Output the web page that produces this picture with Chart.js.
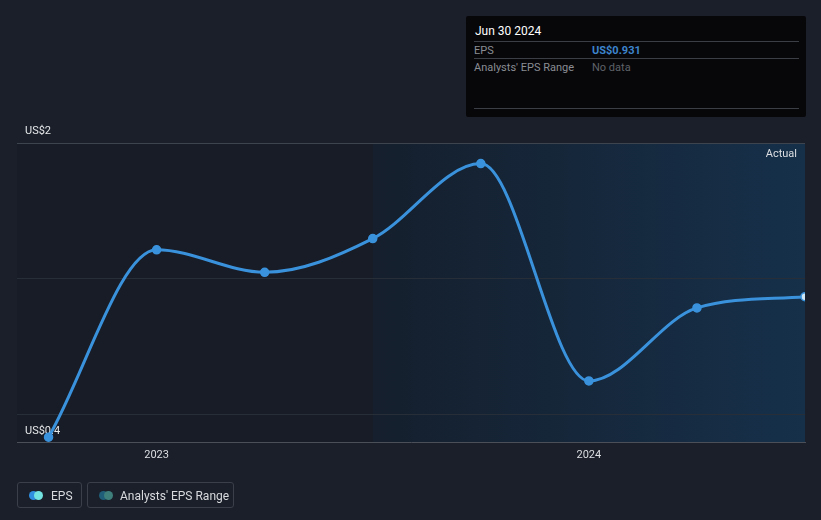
<!DOCTYPE html>
<html>
<head>
<meta charset="utf-8">
<script src="https://cdn.jsdelivr.net/npm/chart.js@4.4.1/dist/chart.umd.min.js"></script>
<style>
  body { margin: 0; background: #1a1f29; font-family: Roboto, sans-serif; }
  #wrap { position: relative; width: 821px; height: 520px; }
  #tip { position: absolute; left: 466px; top: 16px; width: 340px; height: 101px; background: #07070a; border-radius: 2px; font-size: 11px; }
  #tip .ttl { position: absolute; left: 9px; top: 8px; color: #fff; font-size: 12px; }
  #tip .row { position: absolute; left: 8px; width: 325px; height: 17px; border-top: 1px solid #3b3e45; color: #8a8d93; line-height: 17px; }
  #tip .row span.v { position: absolute; left: 118px; }
  .legend { position: absolute; top: 482px; height: 26px; border: 1px solid #3a3f4a; border-radius: 3px; color: #d8dade; font-size: 12px; line-height: 26px; box-sizing: border-box; }
  .dots { position: absolute; left: 11px; top: 8px; width: 15px; height: 9px; }
  .dots i { position: absolute; top: 0; width: 9px; height: 9px; border-radius: 50%; }
</style>
</head>
<body>
<div id="wrap">
  <canvas id="graphChart" width="821" height="520"></canvas>
  <div id="tip">
    <div class="ttl">Jun 30 2024</div>
    <div class="row" style="top:25px"><span>EPS</span><span class="v" style="color:#3d84cc;font-weight:bold">US$0.931</span></div>
    <div class="row" style="top:42px"><span>Analysts' EPS Range</span><span class="v" style="color:#5f6268">No data</span></div>
    <div class="row" style="top:92px;height:0"></div>
  </div>
  <div class="legend" style="left:17px;width:65px">
    <div class="dots"><i style="left:0;background:#2f8ee0"></i><i style="left:5px;background:#72e3e0"></i></div>
    <span style="position:absolute;left:33px">EPS</span>
  </div>
  <div class="legend" style="left:87px;width:147px">
    <div class="dots"><i style="left:0;background:#1f5d78"></i><i style="left:5px;background:#3e7f7c"></i></div>
    <span style="position:absolute;left:32px">Analysts' EPS Range</span>
  </div>
</div>
<script>
// quarter ends as fractional years
let dates = [2022.75, 2023.0, 2023.25, 2023.5, 2023.75, 2024.0, 2024.25, 2024.5]
let eps = [0.43, 1.43, 1.31, 1.49, 1.89, 0.73, 1.12, 1.18]
let yearTicks = [2023, 2024]
let yGrid = [0.4, 0.55, 1.275, 2]
let yLabels = {0.4: 'US$0.4', 2: 'US$2'}
let actualFrom = 2023.5

let ctx = document.getElementById('graphChart')

const bgPlugin = {
    id: 'bg',
    beforeDraw(chart) {
        let c = chart.ctx, a = chart.chartArea, x = chart.scales.x
        let split = x.getPixelForValue(actualFrom)
        c.save()
        c.fillStyle = '#181c26'
        c.fillRect(a.left, a.top, split - a.left, a.bottom - a.top)
        let g = c.createLinearGradient(split, 0, a.right, 0)
        g.addColorStop(0, '#151f2d')
        g.addColorStop(1, '#16304a')
        c.fillStyle = g
        c.fillRect(split, a.top, a.right - split, a.bottom - a.top)
        c.restore()
    },
    afterDraw(chart) {
        let c = chart.ctx, a = chart.chartArea
        c.save()
        c.fillStyle = '#dcdee2'
        c.font = '11px Roboto'
        c.textAlign = 'right'
        c.textBaseline = 'middle'
        c.fillText('Actual', a.right - 8, a.top + 11)
        c.restore()
    }
}

let graphData = {
    type: 'line',
    data: {
        datasets: [{
            label: 'EPS',
            data: dates.map((d, i) => ({x: d, y: eps[i]})),
            borderColor: '#3a92dc',
            backgroundColor: '#3a92dc',
            borderWidth: 3,
            pointRadius: 4,
            pointBackgroundColor: eps.map((v, i) => i == eps.length - 1 ? '#cfe6f5' : '#3a92dc'),
            pointBorderColor: '#3a92dc',
            pointBorderWidth: 1.5,
            cubicInterpolationMode: 'monotone',
            fill: false
        }]
    },
    options: {
        responsive: false,
        animation: false,
        layout: { padding: { left: 1, right: 16, top: 143, bottom: 60 } },
        plugins: { legend: { display: false }, tooltip: { enabled: false } },
        scales: {
            x: {
                type: 'linear',
                min: 2022.677,
                max: 2024.5,
                afterBuildTicks: s => { s.ticks = yearTicks.map(v => ({value: v})) },
                grid: { display: false },
                border: { color: '#4a4f58', width: 1 },
                ticks: { color: '#dcdee2', font: { family: 'Roboto', size: 11 }, padding: -2, maxRotation: 0, callback: v => String(v) }
            },
            y: {
                min: 0.4,
                max: 2,
                afterBuildTicks: s => { s.ticks = yGrid.map(v => ({value: v})) },
                grid: {
                    drawTicks: false,
                    color: c => c.tick.value == 2 ? '#3d444e' : (c.tick.value == 0.4 ? 'rgba(0,0,0,0)' : '#272e38')
                },
                border: { display: false },
                ticks: {
                    mirror: true,
                    padding: 8,
                    labelOffset: -12,
                    color: '#e6e8ea',
                    font: { family: 'Roboto', size: 11 },
                    callback: v => yLabels[v] || ''
                }
            }
        }
    },
    plugins: [bgPlugin]
}

const graph = new Chart(ctx, graphData)
</script>
</body>
</html>
